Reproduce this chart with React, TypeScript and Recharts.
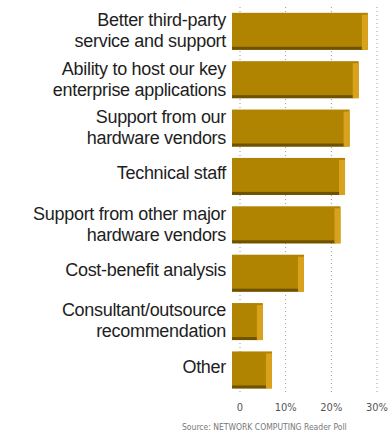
import React from "react";
import { Bar, BarChart, CartesianGrid, XAxis, YAxis } from "recharts";

const reasons = [
  "Better third-party|service and support",
  "Ability to host our key|enterprise applications",
  "Support from our|hardware vendors",
  "Technical staff",
  "Support from other major|hardware vendors",
  "Cost-benefit analysis",
  "Consultant/outsource|recommendation",
  "Other",
];
const shares = [28, 26, 24, 23, 22, 14, 5, 7];
const xTicks = [0, 10, 20, 30];
const source = "Source: NETWORK COMPUTING Reader Poll";

const data = reasons.map((name, i) => ({ name, value: shares[i] }));

function ReasonTick({ x, y, payload }: any) {
  const lines: string[] = String(payload.value).split("|");
  const start = lines.length === 1 ? 3 : -5;
  return (
    <text
      x={x - 6}
      y={y}
      textAnchor="end"
      fill="#1e1e1e"
      fontFamily="'Liberation Sans', Arial, sans-serif"
      fontSize={18}
      letterSpacing={-0.3}
    >
      {lines.map((l, i) => (
        <tspan key={i} x={x - 6} y={y + start + i * 21}>
          {l}
        </tspan>
      ))}
    </text>
  );
}

// flat bar with a little fake depth: dark bottom, light right side
function DepthBar({ x, y, width, height }: any) {
  const left = x - 8;
  const w = width + 8;
  return (
    <g>
      <rect x={left} y={y} width={w} height={height} fill="#b08300" />
      <rect x={left} y={y + height - 3} width={w - 5} height={3} fill="#6e5200" />
      <rect x={left + w - 6} y={y + 2} width={6} height={height - 2} fill="#d9a21c" />
    </g>
  );
}

export default function App() {
  return (
    <div style={{ position: "absolute", left: 0, top: 0, width: 392, height: 436, background: "#fff" }}>
      <BarChart
        width={392}
        height={436}
        data={data}
        layout="vertical"
        barCategoryGap="12%"
        margin={{ top: 7, right: 15, bottom: 12, left: 0 }}
      >
        <CartesianGrid horizontal={false} stroke="#9a9a9a" strokeDasharray="1 3" />
        <XAxis
          type="number"
          domain={[0, 30]}
          ticks={xTicks}
          axisLine={false}
          tickLine={false}
          tickFormatter={(v) => (v === 0 ? "0" : `${v}%`)}
          tick={{ fill: "#555", fontSize: 11, fontFamily: "'DejaVu Sans Condensed', sans-serif" }}
          tickMargin={3}
        />
        <YAxis
          type="category"
          dataKey="name"
          width={240}
          axisLine={false}
          tickLine={false}
          interval={0}
          tick={<ReasonTick />}
        />
        <Bar dataKey="value" shape={<DepthBar />} isAnimationActive={false} />
      </BarChart>
      <div
        style={{
          position: "absolute",
          left: 182,
          top: 422,
          width: 210,
          overflow: "hidden",
          whiteSpace: "nowrap",
          fontFamily: "'DejaVu Sans Condensed', sans-serif",
          fontSize: 8.5,
          color: "#777",
        }}
      >
        {source}
      </div>
    </div>
  );
}
